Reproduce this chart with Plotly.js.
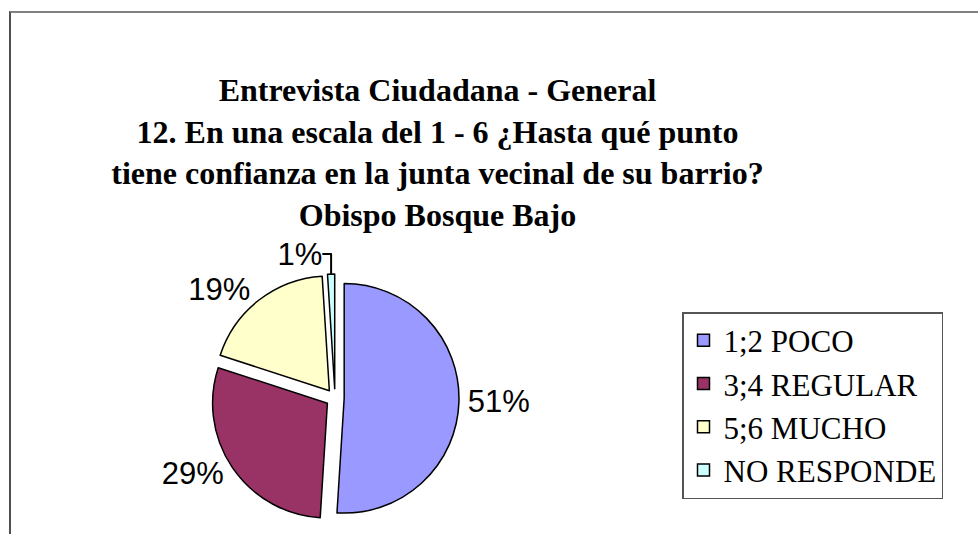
<!DOCTYPE html>
<html>
<head>
<meta charset="utf-8">
<script src="https://cdn.plot.ly/plotly-3.0.1.min.js"></script>
<style>
  html, body { margin: 0; padding: 0; background: #fff; overflow: hidden; }
  #chart { width: 978px; height: 534px; position: absolute; left: 0; top: 0; }
  #frame { position: absolute; left: 9px; top: 11px; width: 1200px; height: 800px;
           border-top: 2px solid #808080; border-left: 2px solid #505050; pointer-events: none; }
</style>
</head>
<body>
<div id="chart"></div>
<div id="frame"></div>
<script>
const categories = ["1;2 POCO", "3;4 REGULAR", "5;6 MUCHO", "NO RESPONDE"];
const values = [51, 29, 19, 1];
const sliceColors = ["#9999FF", "#993366", "#FFFFCC", "#CCFFFF"];
const titleLines = [
  "Entrevista Ciudadana - General",
  "12. En una escala del 1 - 6 ¿Hasta qué punto",
  "tiene confianza en la junta vecinal de su barrio?",
  "Obispo Bosque Bajo"
];

const W = 978, H = 534;
const cx = 335, cy = 398, r = 124;

const trace = {
  type: "pie",
  labels: categories,
  values: values,
  sort: false,
  direction: "clockwise",
  rotation: 0,
  pull: [0.08, 0.08, 0.08, 0.08],
  marker: { colors: sliceColors, line: { color: "#000000", width: 1.5 } },
  textinfo: "percent",
  texttemplate: "%{percent:.0%}",
  textposition: "outside",
  outsidetextfont: { family: "Liberation Sans, Arial, sans-serif", size: 31, color: "#000" },
  hoverinfo: "label+percent",
  domain: { x: [(cx - r) / W, (cx + r) / W], y: [(H - cy - r) / H, (H - cy + r) / H] },
  automargin: false
};

const layout = {
  width: W, height: H,
  margin: { l: 0, r: 0, t: 0, b: 0 },
  paper_bgcolor: "#ffffff",
  showlegend: true,
  title: {
    text: titleLines.map(s => "<b>" + s + "</b>").join("<br>"),
    font: { family: "Liberation Serif, Times New Roman, serif", size: 32, color: "#000" },
    x: 437.5 / W, xanchor: "center",
    y: 1 - 101 / H, yanchor: "top"
  },
  legend: {
    x: 682 / W, xanchor: "left",
    y: 1 - 312 / H, yanchor: "top",
    bgcolor: "#ffffff",
    bordercolor: "#555555", borderwidth: 1.5,
    font: { family: "Liberation Serif, Times New Roman, serif", size: 31, color: "#000" },
    tracegroupgap: 0
  }
};

Plotly.newPlot("chart", [trace], layout, { displayModeBar: false, staticPlot: true });
</script>
</body>
</html>
